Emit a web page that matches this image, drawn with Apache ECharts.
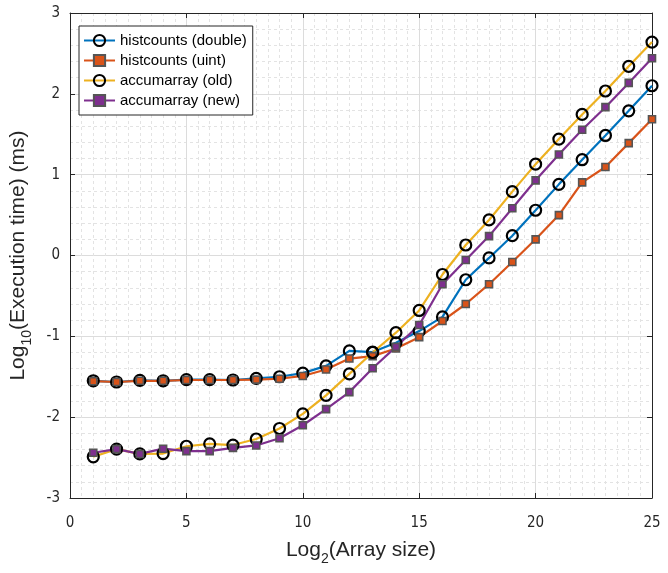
<!DOCTYPE html>
<html><head><meta charset="utf-8">
<script src="https://cdn.jsdelivr.net/npm/echarts@6/dist/echarts.min.js"></script>
<style>html,body{margin:0;padding:0;background:#fff}#c{width:668px;height:573px}</style>
</head><body><div id="c"></div>
<script>
const xValues = [1,2,3,4,5,6,7,8,9,10,11,12,13,14,15,16,17,18,19,20,21,22,23,24,25];
const histDouble = [-1.55,-1.565,-1.545,-1.55,-1.535,-1.535,-1.54,-1.52,-1.50,-1.455,-1.365,-1.18,-1.195,-1.08,-0.935,-0.76,-0.30,-0.03,0.245,0.56,0.88,1.185,1.485,1.79,2.10];
const histUint = [-1.555,-1.565,-1.55,-1.55,-1.54,-1.54,-1.54,-1.535,-1.525,-1.49,-1.41,-1.275,-1.245,-1.15,-1.01,-0.81,-0.60,-0.355,-0.08,0.20,0.50,0.905,1.095,1.39,1.685];
const accumOld = [-2.49,-2.395,-2.455,-2.45,-2.36,-2.33,-2.345,-2.27,-2.14,-1.96,-1.73,-1.465,-1.2,-0.955,-0.68,-0.235,0.13,0.44,0.79,1.13,1.44,1.745,2.035,2.34,2.64];
const accumNew = [-2.44,-2.395,-2.455,-2.39,-2.42,-2.42,-2.38,-2.35,-2.26,-2.10,-1.90,-1.69,-1.395,-1.13,-0.86,-0.355,-0.055,0.24,0.585,0.93,1.25,1.555,1.835,2.135,2.44];
const seriesNames = ['histcounts (double)','histcounts (uint)','accumarray (old)','accumarray (new)'];
const xTicks = [0,5,10,15,20,25];
const yTicks = [-3,-2,-1,0,1,2,3];

const pair = arr => arr.map((v,i)=>[xValues[i], v]);
const tickFont = '"DejaVu Sans Condensed","DejaVu Sans",sans-serif';
const textFont = '"Liberation Sans",Arial,sans-serif';

function mkSeries(name, data, color, kind){
  const circle = kind === 'circle';
  return {
    name, type:'line', data: pair(data),
    symbol: circle ? 'circle' : 'rect',
    symbolSize: circle ? 11 : 7,
    lineStyle:{color, width:2.2},
    itemStyle: circle ? {color:'rgba(0,0,0,0)', borderColor:'#000', borderWidth:2.2}
                      : {color, borderColor:'#555', borderWidth:1.6},
    emphasis:{disabled:true}, animation:false, z:3
  };
}

const gridLine = {show:true, lineStyle:{color:'#dcdcdc', width:1, type:'solid'}};
const minorLine = {show:true, lineStyle:{color:'#e3e3e3', width:1, type:[3,3]}};
const axLine = {show:true, onZero:false, lineStyle:{color:'#262626', width:1}};
const tick = {show:true, inside:true, length:5, lineStyle:{color:'#262626'}};

const chart = echarts.init(document.getElementById('c'), null, {renderer:'canvas'});
chart.setOption({
  animation:false,
  backgroundColor:'#fff',
  grid:{left:66, right:16, top:13, bottom:75, containLabel:false},
  legend:{
    show:true, orient:'vertical', left:79, top:26,
    data: seriesNames,
    backgroundColor:'#fff', borderColor:'#262626', borderWidth:1,
    padding:[7,6,7,4], itemWidth:31, itemHeight:14, itemGap:5,
    textStyle:{fontFamily:textFont, fontSize:15, color:'#000'}
  },
  xAxis:[{
    type:'value', min:0, max:25, interval:5, position:'bottom',
    axisLine:axLine, axisTick:tick,
    axisLabel:{show:true, margin:18, fontFamily:tickFont, fontSize:15, color:'#262626',
      formatter: v => xTicks.includes(v) ? String(v) : ''},
    splitLine:gridLine,
    minorTick:{show:false, splitNumber:10},
    minorSplitLine:minorLine,
    name:'Log{sub|2}(Array size)', nameLocation:'middle', nameGap:37,
    nameTextStyle:{fontFamily:textFont, fontSize:21, color:'#262626',
      rich:{sub:{fontFamily:textFont, fontSize:14, color:'#262626', padding:[17,0,0,0]}}}
  },{
    type:'value', min:0, max:25, interval:5, position:'top',
    axisLine:axLine, axisTick:tick,
    axisLabel:{show:false}, splitLine:{show:false}
  }],
  yAxis:[{
    type:'value', min:-3, max:3, interval:1, position:'left',
    axisLine:axLine, axisTick:tick,
    axisLabel:{show:true, margin:10, fontFamily:tickFont, fontSize:15, color:'#262626',
      formatter: v => yTicks.includes(v) ? String(v) : ''},
    splitLine:gridLine,
    minorTick:{show:false, splitNumber:5},
    minorSplitLine:minorLine,
    name:'Log{sub|10}(Execution time) (ms)', nameLocation:'middle', nameGap:36,
    nameTextStyle:{fontFamily:textFont, fontSize:21, color:'#262626',
      rich:{sub:{fontFamily:textFont, fontSize:14, color:'#262626', padding:[17,0,0,0]}}}
  },{
    type:'value', min:-3, max:3, interval:1, position:'right',
    axisLine:axLine, axisTick:tick,
    axisLabel:{show:false}, splitLine:{show:false}
  }],
  series:[
    mkSeries(seriesNames[0], histDouble, '#0072BD', 'circle'),
    mkSeries(seriesNames[1], histUint, '#D95319', 'square'),
    mkSeries(seriesNames[2], accumOld, '#EDB120', 'circle'),
    mkSeries(seriesNames[3], accumNew, '#7E2F8E', 'square')
  ]
});
</script></body></html>
